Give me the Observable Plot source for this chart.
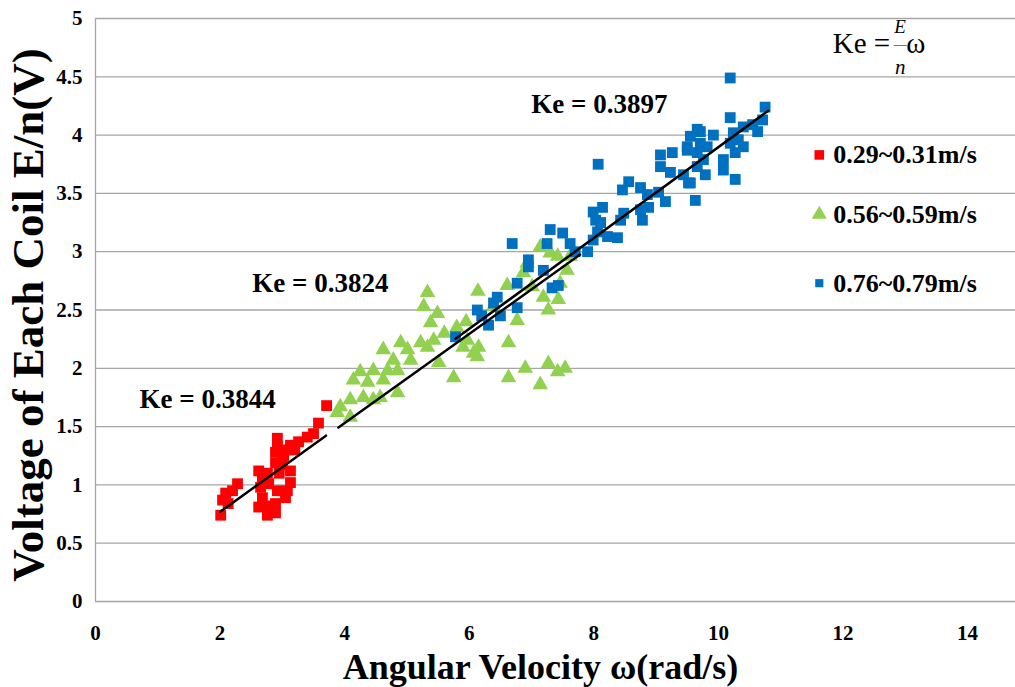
<!DOCTYPE html>
<html><head><meta charset="utf-8">
<script src="https://cdn.jsdelivr.net/npm/d3@7"></script>
<script src="https://cdn.jsdelivr.net/npm/@observablehq/plot@0.6"></script>
<style>
body{margin:0;background:#fff;}
#chart svg{font-family:"Liberation Serif","Times New Roman",serif;}
</style>
</head><body><div id="chart"></div>
<script>
const seriesNames = ["0.29~0.31m/s", "0.56~0.59m/s", "0.76~0.79m/s"];
const seriesColors = ["#ff0000", "#92d050", "#0070c0"];
const seriesSymbols = ["square", "triangle", "square"];

const redPoints = [
  [2.01,0.74],[2.04,0.87],[2.09,0.93],[2.13,0.84],[2.20,0.95],[2.28,1.01],[2.62,1.12],[2.68,1.07],
  [2.76,1.10],[2.65,0.98],[2.78,1.01],[2.68,0.89],[2.76,0.82],[2.62,0.81],[2.76,0.74],[2.89,0.76],
  [2.89,0.84],[2.92,0.95],[3.05,0.89],[3.08,0.95],[3.13,1.02],[3.13,1.12],[3.00,1.17],[2.89,1.19],
  [3.02,1.25],[2.89,1.28],[2.92,1.40],[3.13,1.34],[3.26,1.37],[3.40,1.41],[3.50,1.44],[3.58,1.53],
  [3.71,1.68],[2.92,1.33],[3.05,1.30],[3.20,1.30],[2.95,1.10]
];
const greenPoints = [
  [3.88,1.62],[3.93,1.67],[4.09,1.58],[4.09,1.73],[4.14,1.90],[4.25,1.97],[4.30,1.75],[4.37,1.88],
  [4.46,1.98],[4.46,1.73],[4.57,1.75],[4.62,1.90],[4.62,2.16],[4.69,1.98],[4.78,2.07],[4.85,1.98],
  [4.85,1.79],[4.90,2.22],[5.01,2.16],[5.06,2.07],[5.22,2.22],[5.27,2.53],[5.33,2.65],[5.33,2.18],
  [5.38,2.39],[5.43,2.24],[5.49,2.47],[5.51,2.05],[5.75,1.92],[5.97,2.24],[6.07,2.13],[6.14,2.66],
  [6.15,2.18],[6.13,2.10],[6.63,2.22],[6.63,1.92],[6.90,2.00],[7.14,1.86],[7.27,2.04],[7.42,1.97],
  [7.54,2.00],[6.39,2.53],[6.61,2.71],[6.77,2.41],[6.87,2.82],[7.01,2.70],[7.14,3.04],[7.19,2.61],
  [7.27,2.50],[7.43,2.59],[7.57,2.84],[7.62,2.96],[7.42,2.96],[7.30,2.99],[6.93,2.90],[7.46,2.73],
  [5.80,2.35],[5.60,2.30],[5.95,2.40],[5.90,2.18]
];
const bluePoints = [
  [5.78,2.27],[6.13,2.50],[6.31,2.37],[6.39,2.56],[6.45,2.61],[6.69,3.07],[6.77,2.52],[6.77,2.73],
  [6.95,2.93],[6.95,2.87],[7.19,2.84],[7.25,3.07],[7.30,3.19],[7.33,2.69],[7.43,2.71],[7.50,3.16],
  [7.62,3.07],[7.70,3.00],[7.90,3.00],[7.99,3.10],[8.11,3.25],[8.22,3.13],[8.06,3.17],[8.38,3.12],
  [7.99,3.34],[8.14,3.38],[8.03,3.27],[8.43,3.27],[8.48,3.33],[8.75,3.36],[8.78,3.27],[8.88,3.38],
  [8.07,3.75],[8.56,3.60],[8.46,3.53],[8.75,3.55],[8.86,3.49],[9.04,3.51],[9.15,3.43],[9.07,3.83],
  [9.26,3.85],[9.07,3.73],[9.23,3.68],[9.44,3.66],[9.50,3.90],[9.55,3.99],[9.66,4.05],[9.55,3.59],
  [9.63,3.44],[9.52,3.59],[9.66,3.73],[9.76,3.79],[9.79,3.66],[9.82,3.90],[9.66,3.85],[9.50,3.87],
  [9.71,4.03],[9.71,3.93],[9.92,4.00],[10.08,3.79],[10.08,3.70],[10.27,3.62],[10.19,3.93],[10.32,3.96],
  [10.27,3.85],[10.40,3.90],[10.24,4.02],[10.19,4.15],[10.40,4.07],[10.55,4.09],[10.63,4.03],[10.71,4.13],
  [10.75,4.24],[10.19,4.49],[6.50,2.45],[6.20,2.45]
];
const seriesPoints = [redPoints, greenPoints, bluePoints];

const keValues = [0.3844, 0.3824, 0.3897];
const fitRanges = [[2.0, 3.7], [3.9, 7.78], [5.78, 10.8]];
const keLabelPos = [[1.80, 1.73], [3.61, 2.73], [8.09, 4.26]];
const legendPos = [[11.62, 3.83], [11.62, 3.32], [11.62, 2.73]];
const formulaPos = [12.79, 4.78];

const xTicks = [0, 2, 4, 6, 8, 10, 12, 14];
const yTicks = [0, 0.5, 1, 1.5, 2, 2.5, 3, 3.5, 4, 4.5, 5];
const xTitle = "Angular Velocity ω(rad/s)";
const yTitle = "Voltage of Each Coil E/n(V)";

const marks = [
  Plot.gridY(yTicks, {stroke: "#a6a6a6", strokeOpacity: 1, strokeWidth: 1.3}),
  Plot.ruleX([0], {stroke: "#a6a6a6", strokeWidth: 1.3}),
  Plot.axisY(yTicks, {tickSize: 0, tickPadding: 13, fontSize: 21, fontWeight: "bold", label: null, tickFormat: d => String(d)}),
  Plot.axisX(xTicks, {tickSize: 0, tickPadding: 24, fontSize: 21, fontWeight: "bold", label: null, tickFormat: d => String(d)})
];

seriesPoints.forEach((pts, i) => {
  marks.push(Plot.dot(pts, {
    x: d => d[0], y: d => d[1], symbol: seriesSymbols[i], fill: seriesColors[i],
    r: seriesSymbols[i] === "triangle" ? 5.8 : 6.1
  }));
});

keValues.forEach((ke, i) => {
  const line = fitRanges[i].map(x => ({x, y: ke * x}));
  marks.push(Plot.line(line, {x: "x", y: "y", stroke: "#000", strokeWidth: 2.5}));
  marks.push(Plot.text([`Ke = ${ke.toFixed(4)}`], {
    x: keLabelPos[i][0], y: keLabelPos[i][1], text: d => d,
    fontSize: 27, fontWeight: "bold", fill: "#000", textAnchor: "middle", lineAnchor: "middle"
  }));
  marks.push(Plot.dot([legendPos[i]], {
    x: d => d[0], y: d => d[1], symbol: seriesSymbols[i], fill: seriesColors[i],
    r: seriesSymbols[i] === "triangle" ? 5.6 : (i === 0 ? 5.4 : 4.6)
  }));
  marks.push(Plot.text([seriesNames[i]], {
    x: legendPos[i][0], y: legendPos[i][1], text: d => d, dx: 14,
    fontSize: 26, fontWeight: "bold", fill: "#000", textAnchor: "start", lineAnchor: "middle"
  }));
});

// formula Ke = (E/n) ω
const fx = formulaPos[0], fy = formulaPos[1];
marks.push(
  Plot.text(["Ke ="], {x: fx, y: fy, text: d => d, fontSize: 29, textAnchor: "end", lineAnchor: "middle", dx: -2}),
  Plot.text(["E"], {x: fx, y: fy, text: d => d, fontSize: 19, fontStyle: "italic", textAnchor: "middle", lineAnchor: "middle", dx: 8, dy: -17}),
  Plot.text(["—"], {x: fx, y: fy, text: d => d, fontSize: 13, textAnchor: "middle", lineAnchor: "middle", dx: 8, dy: 0}),
  Plot.text(["n"], {x: fx, y: fy, text: d => d, fontSize: 21, fontStyle: "italic", textAnchor: "middle", lineAnchor: "middle", dx: 8, dy: 23}),
  Plot.text(["ω"], {x: fx, y: fy, text: d => d, fontSize: 29, textAnchor: "start", lineAnchor: "middle", dx: 14})
);

marks.push(
  Plot.text([xTitle], {frameAnchor: "bottom", text: d => d, fontSize: 36, fontWeight: "bold", fill: "#000",
    textAnchor: "middle", lineAnchor: "bottom", dy: 77, dx: -15}),
  Plot.text([yTitle], {frameAnchor: "left", text: d => d, fontSize: 45, fontWeight: "bold", fill: "#000",
    textAnchor: "middle", lineAnchor: "middle", rotate: -90, dx: -67, dy: 5})
);

const chart = Plot.plot({
  width: 1015,
  height: 687,
  marginLeft: 95,
  marginRight: 0,
  marginTop: 18,
  marginBottom: 86,
  x: {domain: [0, 14.77]},
  y: {domain: [0, 5]},
  style: {background: "#fff", color: "#000", fontFamily: "'Liberation Serif','Times New Roman',serif"},
  marks
});
document.getElementById("chart").appendChild(chart);
</script>
</body></html>
